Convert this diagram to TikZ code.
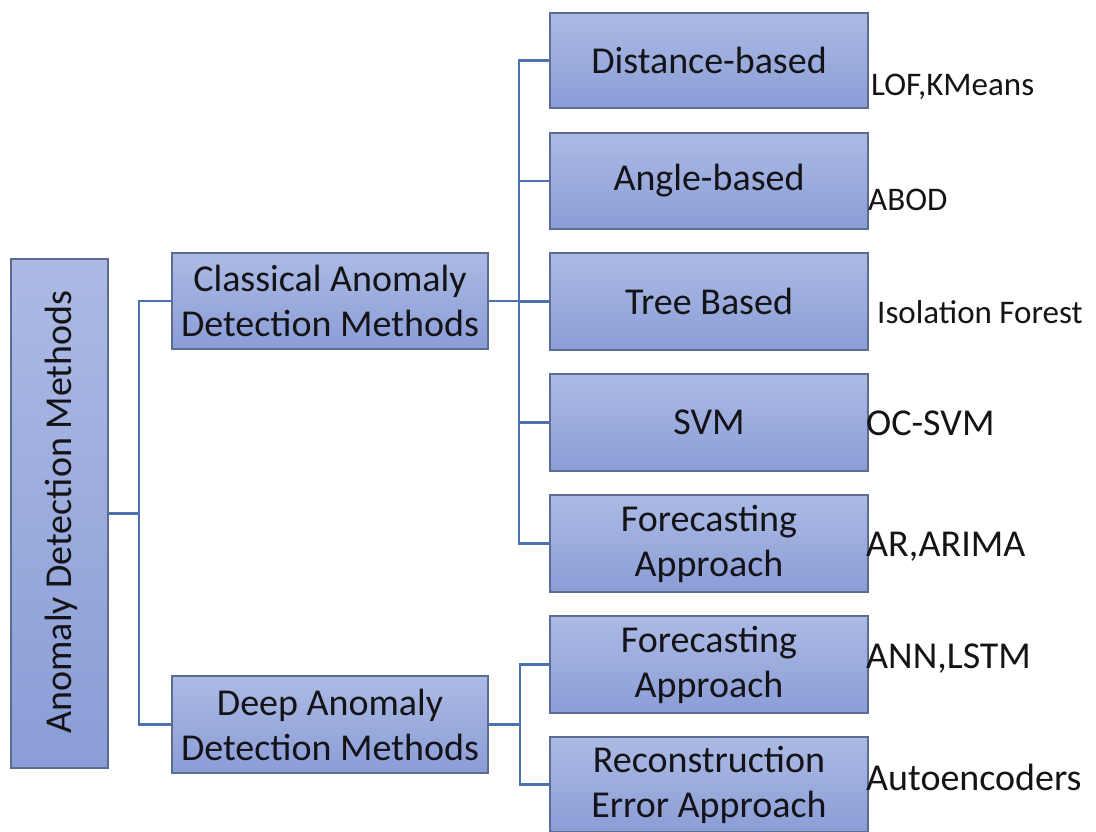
\documentclass[tikz,border=0pt]{standalone}
\usepackage{fontspec}
\setmainfont{Carlito}
\definecolor{boxtop}{RGB}{172,186,228}
\definecolor{boxbot}{RGB}{138,157,214}
\definecolor{boxline}{RGB}{92,108,146}
\definecolor{conn}{RGB}{76,114,178}
\definecolor{txt}{RGB}{20,20,24}
\tikzset{
  boxnode/.style={draw=boxline, line width=1.3pt, top color=boxtop, bottom color=boxbot,
    inner sep=0pt, align=center, text=txt, font=\fontsize{38}{45}\selectfont},
  leafnode/.style={boxnode, minimum width=318pt},
  midnode/.style={boxnode, minimum width=316pt, minimum height=96pt},
  labelnode/.style={anchor=base west, inner sep=0pt, text=txt, font=\fontsize{33}{39}\selectfont},
  biglabel/.style={labelnode, font=\fontsize{38}{45}\selectfont},
  connline/.style={draw=conn, line width=2.2pt},
}
\begin{document}
\begin{tikzpicture}[x=1pt, y=-1pt]
\useasboundingbox (0,0) rectangle (1096,832);
% root
\node[boxnode, minimum width=97pt, minimum height=509pt] (root) at (59.5,513.5) {};
\node[rotate=90, inner sep=0pt, text=txt, font=\fontsize{38}{45}\selectfont] (roottext) at (61,512) {Anomaly Detection Methods};
% middle level
\node[midnode] (cls) at (330,301) {Classical Anomaly\\Detection Methods};
\node[midnode, minimum height=97pt] (deep) at (330,724.5) {Deep Anomaly\\Detection Methods};
% leaves
\node[leafnode, minimum height=95pt] (dist) at (709,60.5) {Distance-based};
\node[leafnode, minimum height=96pt] (angle) at (709,181) {Angle-based};
\node[leafnode, minimum height=97pt] (tree) at (709,301.5) {Tree Based};
\node[leafnode, minimum height=97pt] (svm) at (709,422.5) {SVM};
\node[leafnode, minimum height=97pt] (fc) at (709,543.5) {Forecasting\\Approach};
\node[leafnode, minimum height=97pt] (dfc) at (709,664.5) {Forecasting\\Approach};
\node[leafnode, minimum height=95pt] (rec) at (709,784.5) {Reconstruction\\Error Approach};
% labels
\node[labelnode] (l1) at (871,96) {LOF,KMeans};
\node[labelnode] (l2) at (868,211) {ABOD};
\node[labelnode] (l3) at (877,323) {Isolation Forest};
\node[biglabel] (l4) at (866,435) {OC-SVM};
\node[biglabel] (l5) at (866,556) {AR,ARIMA};
\node[biglabel] (l6) at (866,668) {ANN,LSTM};
\node[biglabel] (l7) at (866,790) {Autoencoders};
% connectors
\coordinate (b1) at (139,513.5);
\coordinate (b2) at (519,301);
\coordinate (b3) at (520,724.5);
\draw[connline] (root.east) -- (b1);
\draw[connline] (cls.west) -| (b1);
\draw[connline] (deep.west) -| (b1);
\draw[connline] (cls.east) -- (b2);
\foreach \n in {dist,angle,tree,svm,fc} \draw[connline] (\n.west) -| (b2);
\draw[connline] (deep.east) -- (b3);
\foreach \n in {dfc,rec} \draw[connline] (\n.west) -| (b3);
\end{tikzpicture}
\end{document}
